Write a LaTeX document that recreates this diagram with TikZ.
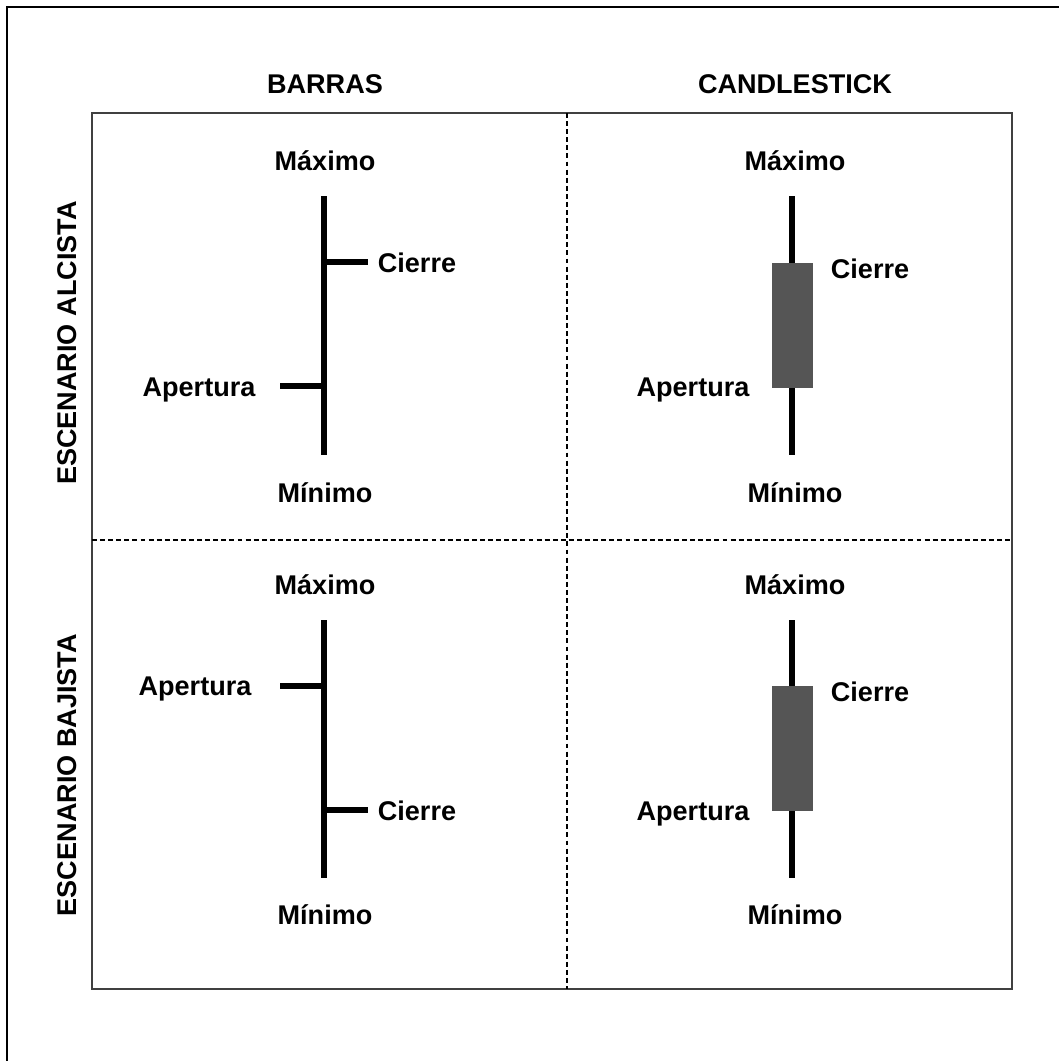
\documentclass[tikz,border=0pt]{standalone}
\usepackage{fontspec}
\setmainfont{Liberation Sans}
\tikzset{
  lbl/.style={font=\bfseries\fontsize{7.7}{9}\selectfont, anchor=base, inner sep=0pt},
  barline/.style={line width=1.7pt},
  gridline/.style={dashed, dash pattern=on 1.4pt off 0.9pt, line width=0.45pt},
  body/.style={fill=candlegray, draw=none}
}
\definecolor{candlegray}{RGB}{85,85,85}
\definecolor{framegray}{RGB}{64,64,64}
\begin{document}
\begin{tikzpicture}[x=0.1mm, y=-0.1mm]
    \useasboundingbox (0,0) rectangle (1059,1061);
    % outer frame (cut by the picture edge)
    \draw[line width=0.6pt] (7,1061) -- (7,7) -- (1059,7);
    % panels
    \draw[framegray, line width=0.6pt] (92,113) rectangle (1012,989);
    \draw[gridline] (567,113) -- (567,989);
    \draw[gridline] (92,540) -- (1012,540);
    % column and row titles
    \node[lbl] (barras) at (325,93) {BARRAS};
    \node[lbl] (candle) at (795,93) {CANDLESTICK};
    \node[lbl, anchor=center, rotate=90] (alcista) at (67,343) {ESCENARIO ALCISTA};
    \node[lbl, anchor=center, rotate=90] (bajista) at (67,775) {ESCENARIO BAJISTA};
    % bars, bullish
    \draw[barline] (324,196) -- (324,455);
    \draw[barline] (324,262) -- (368,262);
    \draw[barline] (280,386) -- (324,386);
    \node[lbl] (maxA) at (325,170) {Máximo};
    \node[lbl] (cieA) at (417,272) {Cierre};
    \node[lbl] (apeA) at (199,396) {Apertura};
    \node[lbl] (minA) at (325,502) {Mínimo};
    % candlestick, bullish
    \draw[barline] (792,196) -- (792,455);
    \fill[candlegray] (772,263) rectangle (813,388);
    \node[lbl] (maxB) at (795,170) {Máximo};
    \node[lbl] (cieB) at (870,278) {Cierre};
    \node[lbl] (apeB) at (693,396) {Apertura};
    \node[lbl] (minB) at (795,502) {Mínimo};
    % bars, bearish
    \draw[barline] (324,620) -- (324,878);
    \draw[barline] (280,686) -- (324,686);
    \draw[barline] (324,810) -- (368,810);
    \node[lbl] (maxC) at (325,594) {Máximo};
    \node[lbl] (apeC) at (195,695) {Apertura};
    \node[lbl] (cieC) at (417,820) {Cierre};
    \node[lbl] (minC) at (325,924) {Mínimo};
    % candlestick, bearish
    \draw[barline] (792,620) -- (792,878);
    \fill[candlegray] (772,686) rectangle (813,811);
    \node[lbl] (maxD) at (795,594) {Máximo};
    \node[lbl] (cieD) at (870,701) {Cierre};
    \node[lbl] (apeD) at (693,820) {Apertura};
    \node[lbl] (minD) at (795,924) {Mínimo};
  \end{tikzpicture}
\end{document}
